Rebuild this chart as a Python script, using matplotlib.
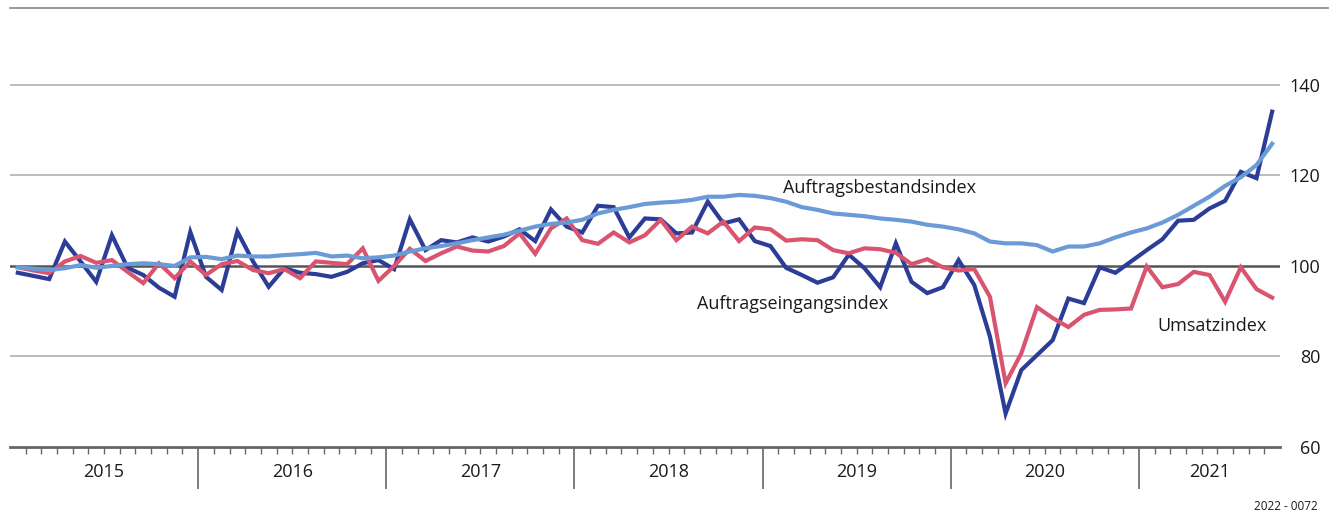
import matplotlib
matplotlib.use("Agg")
import matplotlib.pyplot as plt
import numpy as np

years = ["2015", "2016", "2017", "2018", "2019", "2020", "2021"]
n_months = 81  # Jan 2015 .. Sep 2021

auftragseingang = [
    98.5, 97.8, 97.1, 105.4, 101.0, 96.5, 106.8, 99.6, 98.0, 95.2, 93.2, 107.5,
    97.6, 94.7, 107.6, 101.0, 95.4, 99.5, 98.5, 98.2, 97.6, 98.7, 100.6, 101.3,
    99.3, 110.3, 103.5, 105.7, 105.2, 106.3, 105.4, 106.5, 108.1, 105.5, 112.5, 108.7,
    107.4, 113.3, 113.0, 106.3, 110.5, 110.3, 107.2, 107.4, 114.2, 109.4, 110.3, 105.5,
    104.4, 99.6, 98.0, 96.3, 97.5, 102.5, 99.5, 95.3, 105.0, 96.5, 94.0, 95.3,
    101.3, 95.8, 84.4, 67.4, 77.0, 80.3, 83.6, 92.8, 91.8, 99.7, 98.5, 101.0,
    103.5, 105.9, 110.0, 110.2, 112.7, 114.4, 120.8, 119.4, 134.1,
]
umsatz = [
    99.7, 99.0, 98.4, 101.0, 102.2, 100.7, 101.3, 98.7, 96.2, 100.6, 97.3, 101.0,
    98.0, 100.4, 101.1, 99.1, 98.4, 99.3, 97.3, 101.0, 100.7, 100.4, 103.9, 96.7,
    100.0, 103.8, 101.1, 102.8, 104.3, 103.4, 103.2, 104.4, 107.2, 102.7, 108.3, 110.5,
    105.7, 104.9, 107.4, 105.2, 106.8, 110.2, 105.7, 108.7, 107.2, 109.8, 105.5, 108.5,
    108.1, 105.6, 105.9, 105.7, 103.5, 102.8, 103.9, 103.7, 102.9, 100.4, 101.5, 99.7,
    99.0, 99.3, 93.2, 74.1, 80.7, 90.9, 88.5, 86.5, 89.2, 90.3, 90.4, 90.6,
    99.9, 95.3, 96.0, 98.7, 98.0, 92.1, 99.7, 94.9, 93.0,
]
auftragsbestand = [
    99.7, 99.4, 99.1, 99.5, 100.2, 99.6, 100.0, 100.4, 100.6, 100.4, 100.0, 101.9,
    102.0, 101.5, 102.3, 102.1, 102.1, 102.4, 102.6, 102.9, 102.1, 102.3, 101.7, 101.9,
    102.3, 103.2, 103.9, 104.4, 105.0, 105.7, 106.3, 106.9, 107.8, 108.7, 109.3, 109.6,
    110.2, 111.6, 112.4, 113.0, 113.7, 114.0, 114.2, 114.6, 115.3, 115.3, 115.7, 115.5,
    115.0, 114.2, 113.0, 112.4, 111.6, 111.3, 111.0, 110.5, 110.2, 109.8, 109.1, 108.7,
    108.1, 107.2, 105.4, 105.0, 105.0, 104.6, 103.2, 104.3, 104.3, 105.0, 106.3, 107.4,
    108.3, 109.6, 111.3, 113.3, 115.3, 117.7, 119.6, 122.3, 127.0,
]
yticks = [60, 80, 100, 120, 140]

plt.rcParams['font.family'] = ['Open Sans', 'DejaVu Sans']

W, H = 1329, 515
fig = plt.figure(figsize=(W / 100, H / 100), dpi=100)
left, right, bottom, top = 10 / W, 1280 / W, (H - 447) / H, (H - 8) / H
ax = fig.add_axes([left, bottom, right - left, top - bottom])

x = np.arange(n_months) + 0.5
c_ein = "#2b3d97"
c_ums = "#d9546f"
c_bes = "#6b9bd6"

for v in [80, 120, 140]:
    ax.axhline(v, color="#b0b0b0", lw=1.2, zorder=1)
ax.axhline(100, color="#555555", lw=1.8, zorder=1)

ax.plot(x, auftragseingang, color=c_ein, lw=3.0, zorder=3, solid_joinstyle="miter")
ax.plot(x, umsatz, color=c_ums, lw=3.0, zorder=4, solid_joinstyle="miter")
ax.plot(x, auftragsbestand, color=c_bes, lw=3.0, zorder=5, solid_joinstyle="miter")

ax.set_xlim(0, n_months)
ax.set_ylim(60, 157)

for s in ["left", "right", "top"]:
    ax.spines[s].set_visible(False)
ax.spines["bottom"].set_color("#666666")
ax.spines["bottom"].set_linewidth(2.0)

# month ticks
minor = [m for m in range(1, n_months) if m % 12 != 0]
major = [m for m in range(12, n_months, 12)]
ax.set_xticks(major)
ax.set_xticklabels([])
ax.set_xticks(minor, minor=True)
ax.tick_params(axis="x", which="minor", length=5, width=1, color="#666666", direction="out")
ax.tick_params(axis="x", which="major", length=30, width=1.2, color="#666666", direction="out")

# year labels
for k, yr in enumerate(years):
    a = 12 * k
    b = min(12 * (k + 1), n_months)
    ax.text((a + b) / 2, -0.037, yr, transform=ax.get_xaxis_transform(),
            ha="center", va="top", fontsize=13, color="#1a1a1a")

# y labels right
ax.yaxis.tick_right()
ax.set_yticks(yticks)
ax.tick_params(axis="y", length=0, pad=29, labelsize=13, labelcolor="#1a1a1a")
for lab in ax.get_yticklabels():
    lab.set_horizontalalignment("right")

# top frame line
fig.add_artist(plt.Line2D([10 / W, 1.0], [top, top], color="#888888", lw=1.2))

# series labels
ax.text(49.3, 116.1, "Auftragsbestandsindex", fontsize=13, color="#1a1a1a", ha="left", va="baseline")
ax.text(43.8, 90.5, "Auftragseingangsindex", fontsize=13, color="#1a1a1a", ha="left", va="baseline")
ax.text(73.2, 85.7, "Umsatzindex", fontsize=13, color="#1a1a1a", ha="left", va="baseline")

fig.text(1318 / W, (H - 507) / H, "2022 - 0072", fontsize=8.5, color="#1a1a1a", ha="right", va="center")

fig.savefig("out.png", dpi=100)
